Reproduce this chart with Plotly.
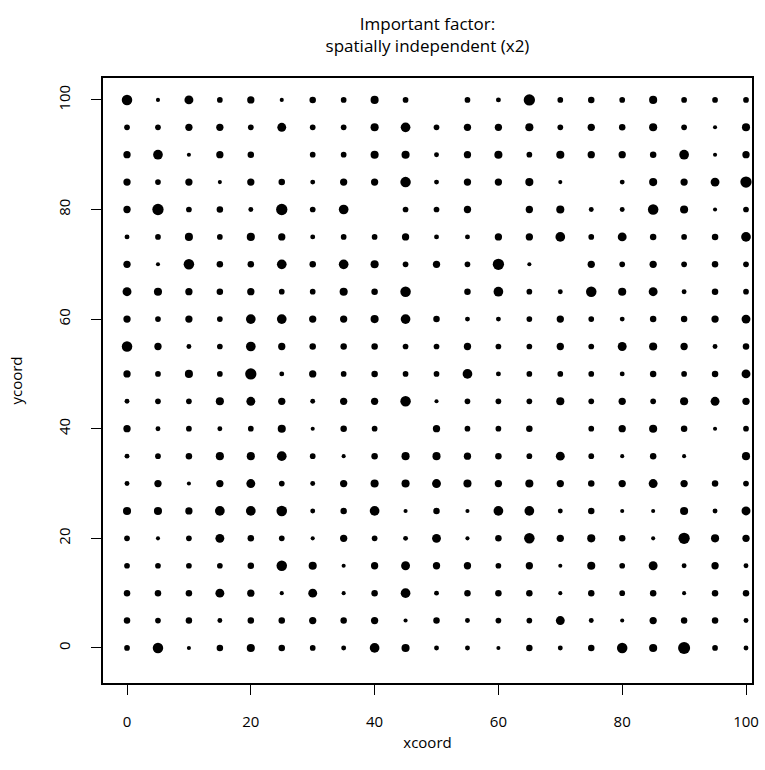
import plotly.graph_objects as go

# grid coordinates
xcoord = [0, 5, 10, 15, 20, 25, 30, 35, 40, 45, 50, 55, 60, 65, 70, 75, 80, 85, 90, 95, 100]
ycoord_rows = [100, 95, 90, 85, 80, 75, 70, 65, 60, 55, 50, 45, 40, 35, 30, 25, 20, 15, 10, 5, 0]

# importance value of x2 at each grid point (rows from y=100 down to y=0; 0 = no point)
x2_values = [
    [5, 1, 4, 2, 3, 1, 2.5, 2, 3.5, 2, 0, 2, 1.5, 5.5, 2, 2.5, 2, 3.5, 2, 2, 2],
    [2, 2, 3, 3, 2, 4, 2, 2, 3.5, 4.5, 2, 3, 3, 3.5, 2, 3, 2.5, 3.5, 2, 1, 3.5],
    [3, 4.5, 1, 3, 2.5, 0, 2, 2, 3.5, 3.5, 1.5, 3, 3.5, 2, 3.5, 3, 3, 2.5, 4.5, 1, 3],
    [3, 2, 3, 1, 3, 2.5, 1.5, 3, 3, 5, 1.5, 3, 3, 3.5, 1, 0, 1.5, 3.5, 3, 4, 5.5],
    [3, 5.5, 2, 2.5, 1.5, 5.5, 2, 4.5, 0, 2, 2, 3, 0, 3, 3.5, 1.5, 1.5, 5, 3.5, 1, 2],
    [1.5, 2, 3.5, 2, 3.5, 3, 1.5, 2, 2, 3, 1.5, 1.5, 3, 3, 4.5, 2, 4, 2.5, 2, 2.5, 4.5],
    [3, 1, 5, 2.5, 2.5, 4.5, 2.5, 4.5, 3.5, 2, 3, 2, 5.5, 1, 0, 3, 2, 3, 2, 2.5, 2],
    [4, 3.5, 3, 2.5, 3, 2, 2, 3.5, 2.5, 5, 0, 2.5, 4.5, 2, 1.5, 5, 3.5, 4, 1.5, 2.5, 2],
    [3, 2, 3, 2, 4.5, 4.5, 3, 3, 3.5, 4.5, 2.5, 1.5, 1.5, 2, 3, 2, 1.5, 2.5, 2.5, 3, 4],
    [5, 3, 1.5, 2, 4.5, 3, 2.5, 2.5, 2.5, 2, 2, 3, 2, 2, 3, 2, 4, 3.5, 3, 1.5, 2.5],
    [3, 2, 3.5, 2, 5.5, 1.5, 3, 2, 2.5, 2, 2, 4.5, 1.5, 2, 2, 2, 1.5, 2.5, 2, 2.5, 4],
    [1.5, 2, 2, 3.5, 4, 3, 1.5, 3, 3, 5, 1, 2, 2, 2, 3.5, 2, 3, 2, 3.5, 4, 3],
    [3, 1.5, 2, 1.5, 2, 3.5, 1, 2.5, 2, 0, 3, 2, 2, 2.5, 0, 2, 3, 3.5, 2.5, 1, 2],
    [1.5, 2, 2.5, 3.5, 3.5, 4.5, 2, 1, 2.5, 3.5, 3.5, 3, 2.5, 2, 4, 2, 1, 2.5, 1, 0, 3.5],
    [1.5, 3, 1, 3, 4, 2, 1.5, 3, 3.5, 3.5, 4, 3.5, 3, 3.5, 3, 2.5, 3, 4, 3, 2.5, 2],
    [3.5, 3.5, 3, 4.5, 4.5, 5, 1.5, 2.5, 4.5, 1, 2.5, 1, 4.5, 4.5, 1.5, 2.5, 1, 1, 3.5, 1.5, 4],
    [2, 1, 2, 4, 2.5, 2, 1, 3, 2, 1.5, 4, 1, 2.5, 5, 3, 3.5, 2.5, 1, 5.5, 3.5, 3],
    [2, 2, 2, 2, 2.5, 5, 3.5, 1, 3, 4, 3, 3, 2, 3, 1, 3.5, 2, 4, 1.5, 3, 1.5],
    [2.5, 2.5, 2.5, 4, 3, 1, 4, 1, 2.5, 4.5, 1.5, 2.5, 2.5, 2.5, 1, 2.5, 2, 2.5, 1, 2.5, 2.5],
    [2.5, 2, 2.5, 1.5, 2.5, 2.5, 3, 2.5, 3, 1, 2.5, 1.5, 2, 2, 4, 1.5, 1, 3, 2.5, 2.5, 1.5],
    [2, 5, 1, 2.5, 3.5, 2.5, 2, 1.5, 4.5, 3.5, 1.5, 1.5, 1, 2.5, 1.5, 2.5, 5, 3.5, 6, 2, 1.5],
]

tick_vals = [0, 20, 40, 60, 80, 100]
tick_text = ["0", "20", "40", "60", "80", "100"]

px, py, pv = [], [], []
for yv, row in zip(ycoord_rows, x2_values):
    for xv, v in zip(xcoord, row):
        if v > 0:
            px.append(xv)
            py.append(yv)
            pv.append(v)

sizes = [2.5 + 1.6 * v for v in pv]

font_family = "Open Sans, Lato, sans-serif"

fig = go.Figure(
    go.Scatter(
        x=px, y=py, mode="markers",
        marker=dict(size=sizes, sizemode="diameter", color="black", opacity=1,
                    line=dict(width=0)),
        hoverinfo="x+y",
    )
)

axis_common = dict(
    showgrid=False, zeroline=False,
    showline=True, linecolor="black", linewidth=1.5, mirror=True,
    ticks="outside", ticklen=10, tickwidth=1.2, tickcolor="black",
    tickvals=tick_vals, ticktext=tick_text,
    tickfont=dict(family=font_family, size=15, color="black"),
    automargin=False,
)

fig.update_layout(
    width=765, height=770,
    margin=dict(l=103, r=13, t=78, b=87),
    paper_bgcolor="white", plot_bgcolor="white",
    showlegend=False,
    font=dict(family=font_family, color="black"),
    title=dict(
        text="Important factor:<br>spatially independent (x2)",
        x=(103 + 752) / 2 / 765, xanchor="center", xref="container",
        y=1 - 30 / 770, yanchor="top", yref="container",
        font=dict(family=font_family, size=17, color="black"),
    ),
    xaxis=dict(
        range=[-3.88, 100.97],
        title=dict(text="xcoord", font=dict(family=font_family, size=15, color="black"), standoff=8),
        ticklabelstandoff=14,
        **axis_common,
    ),
    yaxis=dict(
        range=[-6.4, 104.0],
        tickangle=-90,
        title=dict(text="ycoord", font=dict(family=font_family, size=15, color="black"), standoff=28),
        ticklabelstandoff=15,
        **axis_common,
    ),
)

fig.write_html("out.html")
